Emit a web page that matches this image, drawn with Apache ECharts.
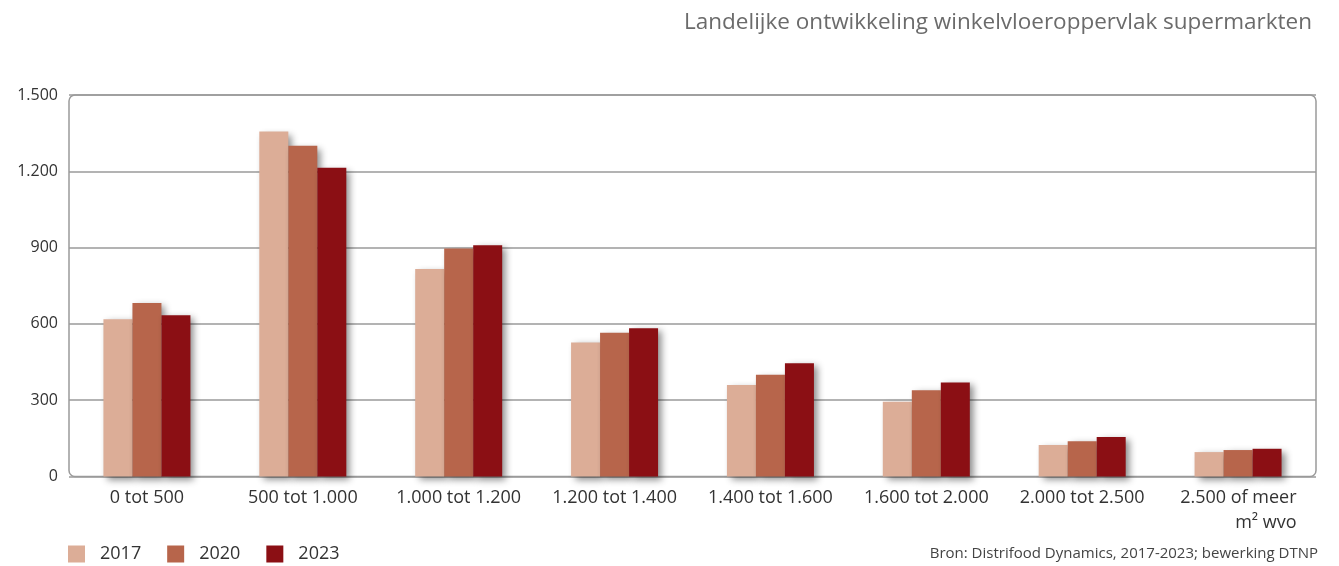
<!DOCTYPE html>
<html>
<head>
<meta charset="utf-8">
<script src="https://cdn.jsdelivr.net/npm/echarts@6/dist/echarts.min.js"></script>
<style>
  html, body { margin: 0; padding: 0; background: #fff; }
  #chart { width: 1339px; height: 566px; }
</style>
</head>
<body>
<div id="chart"></div>
<script>
// Winkelvloeroppervlak-klassen (m² wvo)
const categories = ['0 tot 500', '500 tot 1.000', '1.000 tot 1.200', '1.200 tot 1.400',
  '1.400 tot 1.600', '1.600 tot 2.000', '2.000 tot 2.500', '2.500 of meer\nm² wvo'];
const years = ['2017', '2020', '2023'];
const values2017 = [618, 1356, 816, 527, 360, 294, 124, 96];
const values2020 = [682, 1300, 896, 565, 400, 339, 139, 104];
const values2023 = [634, 1214, 909, 583, 445, 370, 155, 109];
const yMin = 0, yMax = 1500, yStep = 300;

const colors = ['#dcad97', '#b7654b', '#8b0f14'];
const font = '"Open Sans", "DejaVu Sans", sans-serif';

// Plot area in pixels
const G = { left: 69, top: 95, right: 23, bottom: 89.5 };
const W = 1339, H = 566;

function thousands(v) {
  return String(v).replace(/\B(?=(\d{3})+(?!\d))/g, '.');
}

const chart = echarts.init(document.getElementById('chart'), null, { renderer: 'canvas' });

const seriesData = [values2017, values2020, values2023];

chart.setOption({
  animation: false,
  backgroundColor: '#fff',
  color: colors,
  title: {
    text: 'Landelijke ontwikkeling winkelvloeroppervlak supermarkten',
    right: 22,
    top: 6,
    textStyle: { fontFamily: font, fontSize: 22.5, fontWeight: 'normal', color: '#6b6b6b' }
  },
  legend: {
    data: years,
    left: 68,
    top: 545,
    padding: 0,
    icon: 'rect',
    itemWidth: 17,
    itemHeight: 17,
    itemGap: 26,
    textStyle: { fontFamily: font, fontSize: 18, color: '#333', padding: [0, 0, 0, 10] }
  },
  grid: { left: G.left, top: G.top, right: G.right, bottom: G.bottom, show: false },
  xAxis: {
    type: 'category',
    data: categories,
    axisLine: { show: false },
    axisTick: { show: false },
    axisLabel: {
      margin: 9,
      interval: 0,
      fontFamily: font,
      fontSize: 18,
      color: '#333',
      lineHeight: 25,
      formatter: function (v) {
        if (v.indexOf('\n') >= 0) {
          const parts = v.split('\n');
          return '{a|' + parts[0] + '}\n{a|' + parts[1] + '}';
        }
        return v;
      },
      rich: {
        a: { width: 117, align: 'right', fontFamily: font, fontSize: 18, color: '#333', lineHeight: 25 }
      }
    }
  },
  yAxis: {
    type: 'value',
    min: yMin,
    max: yMax,
    interval: yStep,
    axisLine: { show: false },
    axisTick: { show: false },
    splitLine: { show: true, lineStyle: { color: '#9a9a9a', width: 1.5 } },
    axisLabel: {
      margin: 11,
      fontFamily: font,
      fontSize: 16,
      color: '#333',
      formatter: thousands
    }
  },
  graphic: [
    {
      type: 'rect',
      z: 0,
      silent: true,
      shape: { x: G.left, y: G.top, width: W - G.left - G.right, height: H - G.top - G.bottom, r: 6 },
      style: { fill: 'none', stroke: '#9a9a9a', lineWidth: 1.5 }
    },
    {
      type: 'text',
      right: 21,
      top: 546,
      style: {
        text: 'Bron: Distrifood Dynamics, 2017-2023; bewerking DTNP',
        font: '15px ' + font,
        fill: '#444'
      }
    }
  ],
  series: years.map(function (y, i) {
    return {
      name: y,
      type: 'bar',
      data: seriesData[i],
      barWidth: 29,
      barGap: '0%',
      z: 3,
      itemStyle: {
        color: colors[i],
        shadowColor: 'rgba(0,0,0,0.45)',
        shadowBlur: 7,
        shadowOffsetX: 4,
        shadowOffsetY: 3
      }
    };
  })
});
</script>
</body>
</html>
